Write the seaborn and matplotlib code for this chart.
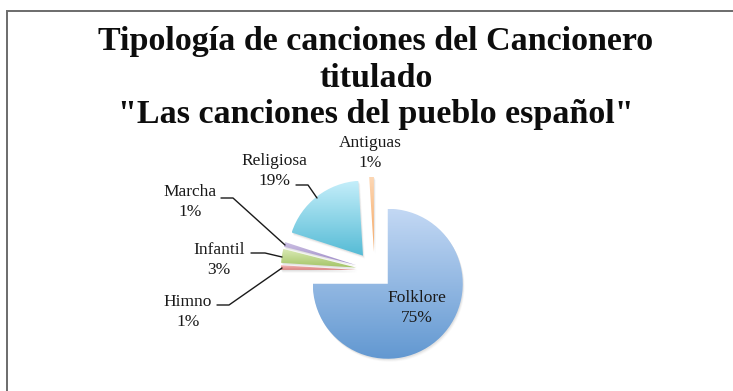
import numpy as np
import matplotlib
matplotlib.use("Agg")
import matplotlib.pyplot as plt
import seaborn as sns
from matplotlib.patches import Wedge

# Datos del gráfico
categorias = ["Folklore", "Himno", "Infantil", "Marcha", "Religiosa", "Antiguas"]
porcentajes = [75, 1, 3, 1, 19, 1]
etiquetas = [f"{c}\n{p}%" for c, p in zip(categorias, porcentajes)]
tonos_claros = ["#c3d8f4", "#f4b9b8", "#d9eab4", "#cdc2e4", "#c4eefa", "#fdd7b4"]
tonos_oscuros = ["#6298d1", "#d98280", "#a3c365", "#9d89c6", "#55bbd5", "#f5a45d"]
titulo = ["Tipología de canciones del Cancionero",
          "titulado",
          '"Las canciones del pueblo español"']

sns.set_theme(style="white")
plt.rcParams["font.family"] = ["Liberation Serif", "DejaVu Serif"]

W, H = 733, 391
fig = plt.figure(figsize=(W / 100, H / 100), dpi=100)
ax = fig.add_axes([0, 0, 1, 1])


def py(y):
    """Convierte una coordenada vertical medida desde arriba."""
    return H - y


R = 75
centro = (374.5, py(270.5))
wedges, _ = ax.pie(porcentajes, startangle=90, counterclock=False,
                   explode=[0.25 * R] * len(porcentajes), radius=R,
                   center=centro, wedgeprops=dict(linewidth=0))

# Sombra suave y relleno degradado de cada sector
for w, claro, oscuro in zip(wedges, tonos_claros, tonos_oscuros):
    w.set_facecolor("none")
    w.set_edgecolor("none")
    for k, a in [(3.0, 0.05), (2.0, 0.08), (1.2, 0.10)]:
        sombra = Wedge((w.center[0] + k * 0.6, w.center[1] - k), w.r,
                       w.theta1, w.theta2, facecolor="#808080",
                       edgecolor="none", alpha=a, zorder=0.5)
        ax.add_patch(sombra)
    ext = w.get_path().get_extents()
    cmap = sns.blend_palette([claro, oscuro], as_cmap=True)
    grad = np.linspace(0, 1, 256).reshape(-1, 1)
    im = ax.imshow(grad, cmap=cmap, origin="upper", aspect="auto",
                   extent=(ext.x0, ext.x1, ext.y0, ext.y1), zorder=1,
                   interpolation="bilinear")
    im.set_clip_path(w)

ax.set_xlim(0, W)
ax.set_ylim(0, H)
ax.set_aspect("auto")
ax.axis("off")

# Etiquetas de datos
pos_etiquetas = {
    "Folklore": (417, 308),
    "Himno": (188, 312),
    "Infantil": (219, 260),
    "Marcha": (190, 202),
    "Religiosa": (274, 171),
    "Antiguas": (370, 153),
}
for cat, txt in zip(categorias, etiquetas):
    x, y = pos_etiquetas[cat]
    ax.text(x, py(y), txt, ha="center", va="center", fontsize=12.5,
            linespacing=1.38, color="#1a1a1a", zorder=5)

# Líneas guía
guias = [
    [(296, 185), (308, 185), (317, 198)],
    [(221, 198), (233, 198), (285, 245)],
    [(251, 253), (265, 253), (282, 257)],
    [(217, 305), (229, 305), (282, 268)],
]
for g in guias:
    xs = [p[0] for p in g]
    ys = [py(p[1]) for p in g]
    ax.plot(xs, ys, color="#1a1a1a", lw=1.0, zorder=4)

# Título
for linea, base in zip(titulo, [50, 87, 123]):
    ax.text(376, py(base), linea, ha="center", va="baseline", fontsize=24.5,
            fontweight="bold", color="#0d0d0d", zorder=5)

# Marco del área del gráfico
ax.plot([7, 7, W], [0, py(11), py(11)], color="#6b6b6b", lw=1.4,
        solid_joinstyle="miter", zorder=6, clip_on=False)

fig.savefig("out.png", dpi=100)
